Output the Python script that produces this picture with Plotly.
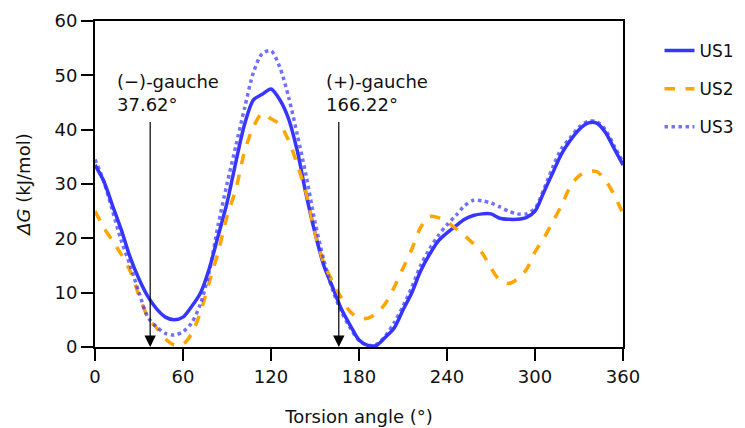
import plotly.graph_objects as go

angle = list(range(0, 361, 6))

us1 = [33.5, 30.5, 26, 21.5, 16.5, 12.5, 9.3, 7, 5.5, 5.0,
       5.5, 7.5, 10, 14.5, 20.5, 26.5, 34, 41, 45.5, 46.5,
       47.5, 45.5, 42, 36, 28, 21, 15, 11, 7, 4,
       1.3, 0.3, 0.3, 1.8, 3.5, 6.8, 10, 14, 17, 19.5,
       21, 22.3, 23.5, 24.2, 24.5, 24.5, 23.7, 23.5, 23.5, 23.8,
       25, 28.5, 32, 35.5, 38, 40, 41.2, 41.2, 39.5, 36.5, 33.5]

us2 = [25, 22, 19.5, 17, 14, 9.5, 5.5, 3.5, 1.5, 0.4,
       0.5, 2.5, 6.5, 12, 17.5, 24, 29, 36, 40.5, 43,
       42, 41, 38, 33.5, 28.3, 21, 15.5, 12, 9, 6.5,
       5.3, 5.3, 6.2, 8, 11, 14.5, 18, 22, 24, 23.8,
       23, 21.8, 20.5, 19, 17.3, 14.5, 12.3, 11.7, 12.5, 14.2,
       17.5, 20, 23, 26, 29.5, 31.5, 32.3, 32.3, 30.7, 28, 24.5]

us3 = [34.5, 30.5, 25, 19.5, 15, 10, 5.5, 3.7, 2.5, 2.2,
       2.8, 4.5, 8, 14, 22.5, 30, 37, 44, 50.5, 54,
       54.5, 51.5, 46, 39, 31.5, 23, 16, 10.5, 6.5, 3.5,
       1.2, 0.3, 0.5, 2, 4.5, 7.5, 11, 15, 18, 20.5,
       22.5, 24.2, 26, 27, 26.9, 26.5, 25.8, 25, 24.5, 24.5,
       25.5, 29, 33, 36.5, 38.5, 40.5, 41.5, 41.5, 40, 37, 34]

gauche_angles = [37.62, 166.22]
gauche_labels = ["(\u2212)-gauche<br>37.62\u00b0", "(+)-gauche<br>166.22\u00b0"]
label_x = [13.8, 156]

fig = go.Figure()
styles = [("US1", us1, "#3636ff", "solid", 1.0),
          ("US2", us2, "#ffa500", "dash", 1.0),
          ("US3", us3, "#3636ff", "dot", 0.7)]
for i, (name, vals, color, dash, op) in enumerate(styles):
    fig.add_trace(go.Scatter(x=angle, y=vals, mode="lines", name=name, opacity=op,
                             legendgroup=str(i),
                             line=dict(color=color, width=3.5, dash=dash,
                                       shape="spline", smoothing=0.8)))

for a, lab, lx in zip(gauche_angles, gauche_labels, label_x):
    fig.add_annotation(x=a, y=0, ax=a, ay=41.7, xref="x", yref="y", axref="x", ayref="y",
                       showarrow=True, arrowhead=2, arrowsize=1.9, arrowwidth=1.2,
                       arrowcolor="black", text="")
    fig.add_annotation(x=lx, y=42.3, xref="x", yref="y", text=lab, showarrow=False,
                       xanchor="left", yanchor="bottom", align="left",
                       font=dict(size=18, color="#111"))

axis = dict(showline=True, linecolor="black", linewidth=2, mirror=True,
            ticks="outside", ticklen=12, tickwidth=2, tickcolor="black",
            showgrid=False, zeroline=False, automargin=False,
            tickfont=dict(size=18, color="#111"))
fig.update_xaxes(range=[0, 360], tickvals=[0, 60, 120, 180, 240, 300, 360],
                 title=dict(text="Torsion angle (\u00b0)", font=dict(size=18, color="#111"), standoff=25),
                 **axis)
fig.update_yaxes(range=[0, 60], tickvals=[0, 10, 20, 30, 40, 50, 60],
                 title=dict(text="<i>\u0394G</i> (kJ/mol)", font=dict(size=18, color="#111"), standoff=19),
                 **axis)
# page body adds an 8px margin, so the figure is a bit smaller than the window
fig.update_layout(width=737, height=420, template="none",
                  font=dict(family="DejaVu Sans", color="#111"),
                  plot_bgcolor="white", paper_bgcolor="white",
                  margin=dict(l=87, r=122, t=13, b=81),
                  legend=dict(xref="container", x=0.884, y=0.963, xanchor="left", yanchor="top",
                              font=dict(size=17), tracegroupgap=13, bgcolor="rgba(0,0,0,0)"))
fig.write_html("out.html")
